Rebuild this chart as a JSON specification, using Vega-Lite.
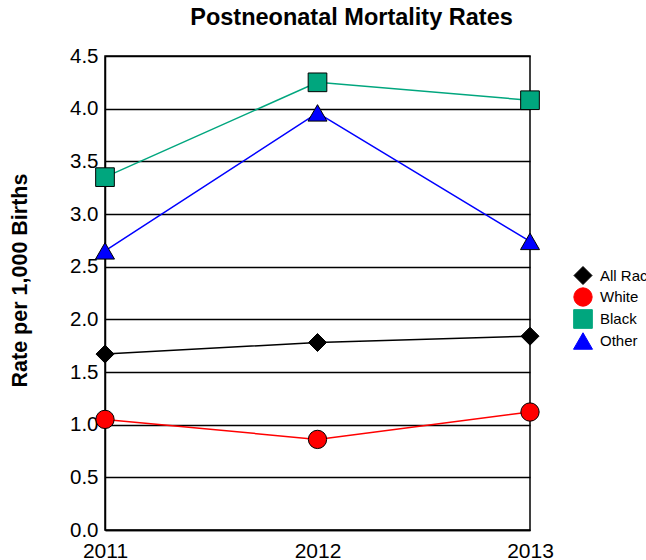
{
  "$schema": "https://vega.github.io/schema/vega-lite/v6.json",
  "width": 425,
  "height": 474,
  "autosize": {"type": "none"},
  "padding": {"left": 105, "top": 56, "right": 116, "bottom": 30},
  "background": "white",
  "title": {
    "text": "Postneonatal Mortality Rates",
    "font": "Liberation Sans",
    "fontSize": 23.5,
    "fontWeight": "bold",
    "color": "black",
    "anchor": "middle",
    "dx": 34,
    "baseline": "alphabetic",
    "offset": -2
  },
  "config": {
    "font": "Liberation Sans",
    "view": {"stroke": "black", "strokeWidth": 1.5},
    "legend": {
      "orient": "none",
      "legendX": 468,
      "legendY": 210,
      "padding": 0,
      "labelFont": "Liberation Sans",
      "labelFontSize": 15,
      "labelColor": "black",
      "symbolSize": 400,
      "symbolStrokeColor": "black",
      "symbolStrokeWidth": 1,
      "rowPadding": -3,
      "labelOffset": 7
    }
  },
  "data": {
    "values": [
      {"year": "2011", "race": "All Races", "rate": 1.67},
      {"year": "2012", "race": "All Races", "rate": 1.78},
      {"year": "2013", "race": "All Races", "rate": 1.84},
      {"year": "2011", "race": "White", "rate": 1.05},
      {"year": "2012", "race": "White", "rate": 0.86},
      {"year": "2013", "race": "White", "rate": 1.12},
      {"year": "2011", "race": "Black", "rate": 3.35},
      {"year": "2012", "race": "Black", "rate": 4.25},
      {"year": "2013", "race": "Black", "rate": 4.08},
      {"year": "2011", "race": "Other", "rate": 2.65},
      {"year": "2012", "race": "Other", "rate": 3.96},
      {"year": "2013", "race": "Other", "rate": 2.74}
    ]
  },
  "encoding": {
    "x": {
      "field": "year",
      "type": "ordinal",
      "scale": {"type": "point", "padding": 0},
      "axis": {
        "title": null,
        "labelAngle": 0,
        "labelFontSize": 21,
        "labelColor": "black",
        "labelPadding": 10,
        "ticks": false,
        "domainColor": "black",
        "domainWidth": 1.5,
        "grid": false
      }
    },
    "y": {
      "field": "rate",
      "type": "quantitative",
      "scale": {"domain": [0, 4.5], "nice": false},
      "axis": {
        "values": [0, 0.5, 1, 1.5, 2, 2.5, 3, 3.5, 4, 4.5],
        "format": ".1f",
        "labelFontSize": 20.5,
        "labelColor": "black",
        "labelPadding": 7,
        "ticks": false,
        "domainColor": "black",
        "domainWidth": 1.5,
        "grid": true,
        "gridColor": "black",
        "gridWidth": 1.5,
        "gridOpacity": 1,
        "title": "Rate per 1,000 Births",
        "titleFontSize": 21.5,
        "titleFontWeight": "bold",
        "titleColor": "black",
        "titlePadding": 38,
        "titleY": 224
      }
    },
    "color": {
      "field": "race",
      "type": "nominal",
      "scale": {
        "domain": ["All Races", "White", "Black", "Other"],
        "range": ["#000000", "#FF0000", "#00A67E", "#0000FF"]
      },
      "legend": {"title": null}
    }
  },
  "layer": [
    {"mark": {"type": "line", "strokeWidth": 1.5}},
    {
      "mark": {"type": "point", "filled": true, "opacity": 1, "stroke": "black", "strokeWidth": 1},
      "encoding": {
        "shape": {
          "field": "race",
          "type": "nominal",
          "scale": {
            "domain": ["All Races", "White", "Black", "Other"],
            "range": ["diamond", "circle", "square", "triangle-up"]
          },
          "legend": {"title": null}
        },
        "size": {
          "field": "race",
          "type": "nominal",
          "scale": {
            "domain": ["All Races", "White", "Black", "Other"],
            "range": [324, 361, 300, 300]
          },
          "legend": null
        }
      }
    }
  ]
}
